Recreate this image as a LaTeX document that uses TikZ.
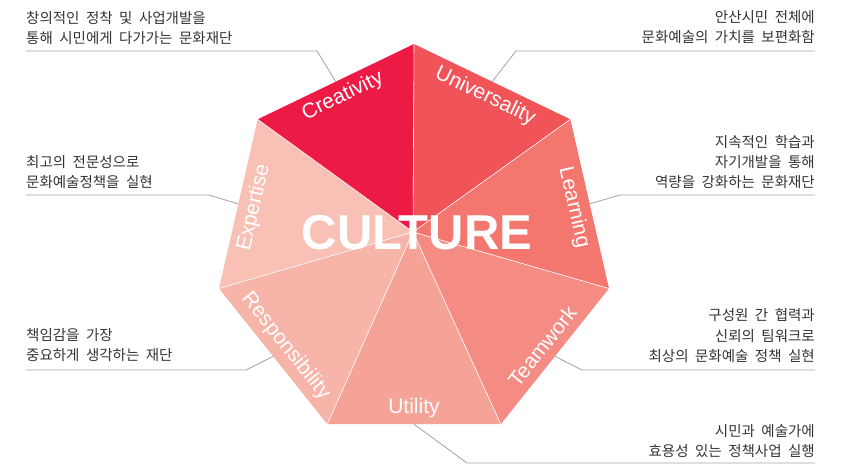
\documentclass[tikz,border=0pt]{standalone}
\usepackage{fontspec}
\setmainfont{Liberation Sans}
\newfontfamily\kofont[WordSpace=2]{Noto Sans CJK KR}
\usepackage{tikz}
\usepackage{xcolor}
\usetikzlibrary{calc}

\definecolor{univcol}{HTML}{F05459}
\definecolor{learcol}{HTML}{F3766F}
\definecolor{teamcol}{HTML}{F48C84}
\definecolor{utilcol}{HTML}{F5A397}
\definecolor{respcol}{HTML}{F7B4A9}
\definecolor{expecol}{HTML}{F9C1B6}
\definecolor{creacol}{HTML}{ED1A45}
\definecolor{notecol}{HTML}{333333}
\definecolor{leadcol}{HTML}{A3A3A3}

\tikzset{
    seclabel/.style={white,inner sep=0pt,font=\fontsize{21}{21}\selectfont},
    note/.style={text=notecol,inner sep=0pt,font=\kofont\fontsize{14.5}{20}\selectfont},
    leader/.style={draw=leadcol,line width=0.8pt},
}

\begin{document}
\begin{tikzpicture}[x=1pt,y=1pt]
        \useasboundingbox (-414,-220) rectangle (434,244);
        \coordinate (hub) at (-1,12);
        \foreach \k in {0,...,6}{
            \coordinate (v\k) at ({90-360/7*\k}:200);
        }
        % sectors, clockwise from the top corner
        \foreach \k/\j/\col in {0/1/univcol,1/2/learcol,2/3/teamcol,3/4/utilcol,4/5/respcol,5/6/expecol,6/0/creacol}{
            \fill[\col] (hub) -- (v\k) -- (v\j) -- cycle;
            \coordinate (m\k) at ($(v\k)!0.5!(v\j)$);
        }
        \foreach \k in {0,...,6}{
            \draw[white,line width=0.6pt] (hub) -- (v\k);
        }
        \foreach \k/\word/\rot in {0/Universality/-25.71,1/Learning/-77.14,2/Teamwork/51.43,3/Utility/0,4/Responsibility/-51.43,5/Expertise/77.14,6/Creativity/25.71}{
            \node[seclabel,rotate=\rot] (lab\k) at ({90-360/7*(\k+0.5)}:164) {\word};
        }
        \node[white,inner sep=0pt,font=\bfseries\fontsize{49}{49}\selectfont] (culture) at (3,11) {CULTURE};

        % notes round the heptagon
        \node[note,anchor=west,align=left] (creanote) at (-388,216) {창의적인 정착 및 사업개발을\\통해 시민에게 다가가는 문화재단};
        \node[note,anchor=east,align=right] (univnote) at (401,217) {안산시민 전체에\\문화예술의 가치를 보편화함};
        \node[note,anchor=east,align=right] (learnote) at (401,82) {지속적인 학습과\\자기개발을 통해\\역량을 강화하는 문화재단};
        \node[note,anchor=west,align=left] (expenote) at (-388,72) {최고의 전문성으로\\문화예술정책을 실현};
        \node[note,anchor=west,align=left] (respnote) at (-388,-101) {책임감을 가장\\중요하게 생각하는 재단};
        \node[note,anchor=east,align=right,font=\kofont\fontsize{14.5}{20.5}\selectfont] (teamnote) at (401,-92) {구성원 간 협력과\\신뢰의 팀워크로\\최상의 문화예술 정책 실현};
        \node[note,anchor=east,align=right] (utilnote) at (401,-197) {시민과 예술가에\\효용성 있는 정책사업 실행};

        \coordinate (creabend) at (-97,193);
        \coordinate (univbend) at (102,193);
        \coordinate (learbend) at (206,49);
        \coordinate (expebend) at (-205,49);
        \coordinate (respbend) at (-168,-126);
        \coordinate (teambend) at (168,-126);
        \coordinate (utilbend) at (53,-219);

        \draw[leader] (creanote.west |- creabend) -- (creabend) -- (m6);
        \draw[leader] (univnote.east |- univbend) -- (univbend) -- (m0);
        \draw[leader] (learnote.east |- learbend) -- (learbend) -- (m1);
        \draw[leader] (expenote.west |- expebend) -- (expebend) -- (m5);
        \draw[leader] (respnote.west |- respbend) -- (respbend) -- (m4);
        \draw[leader] (teamnote.east |- teambend) -- (teambend) -- (m2);
        \draw[leader] (utilnote.east |- utilbend) -- (utilbend) -- (m3);
    \end{tikzpicture}
\end{document}
